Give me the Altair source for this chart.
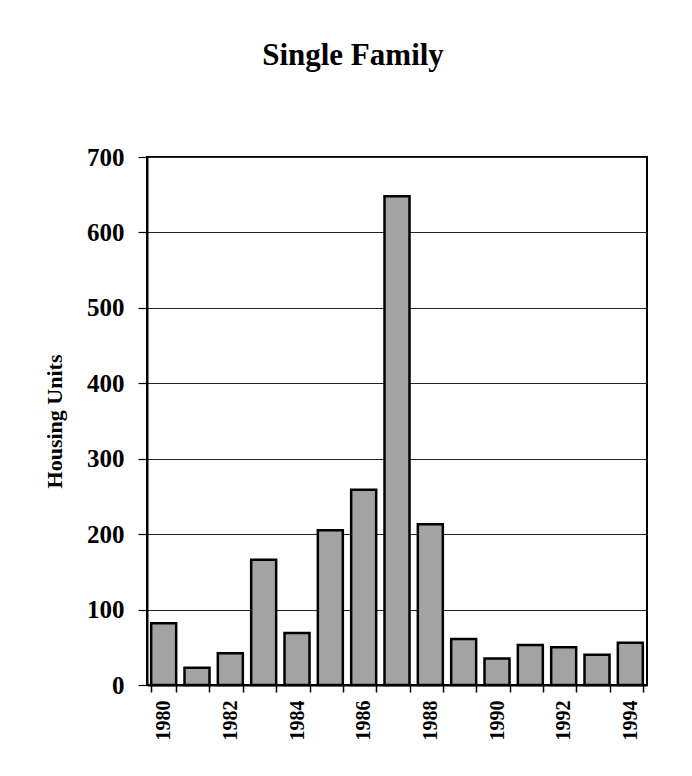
import altair as alt
import pandas as pd

years = [str(y) for y in range(1980, 1995)]
units = [82, 23, 42, 166, 69, 205, 259, 648, 213, 61, 35, 53, 50, 40, 56]

df = pd.DataFrame({"Year": years, "Units": units})

FONT = "Liberation Serif"

chart = (
    alt.Chart(df)
    .mark_bar(fill="#a3a3a3", stroke="black", strokeWidth=2.5)
    .encode(
        x=alt.X(
            "Year:N",
            sort=years,
            title=None,
            scale=alt.Scale(paddingInner=0.25, paddingOuter=0.125),
            axis=alt.Axis(
                labelAngle=-90,
                labelFont=FONT,
                labelFontSize=20,
                labelFontWeight="bold",
                labelColor="black",
                labelPadding=8,
                labelExpr="parseInt(datum.value) % 2 == 0 ? datum.label : ''",
                tickBand="extent",
                tickSize=7,
                tickColor="black",
                tickWidth=1.5,
                domainColor="black",
                domainWidth=2,
                grid=False,
            ),
        ),
        y=alt.Y(
            "Units:Q",
            title="Housing Units",
            scale=alt.Scale(domain=[0, 700], nice=False),
            axis=alt.Axis(
                values=[0, 100, 200, 300, 400, 500, 600, 700],
                labelFont=FONT,
                labelFontSize=25,
                labelFontWeight="bold",
                labelColor="black",
                labelPadding=14,
                tickSize=9,
                tickColor="black",
                tickWidth=1.2,
                domainColor="black",
                domainWidth=2,
                grid=True,
                gridColor="#222222",
                gridWidth=1,
                titleFont=FONT,
                titleFontSize=22,
                titleFontWeight="bold",
                titleColor="black",
                titlePadding=20,
            ),
        ),
    )
    .properties(
        width=500,
        height=528,
        title=alt.TitleParams(
            "Single Family",
            font=FONT,
            fontSize=31,
            fontWeight="bold",
            color="black",
            baseline="alphabetic",
            offset=49,
            dx=-44,
        ),
        autosize=alt.AutoSizeParams(type="none"),
        padding={"left": 139, "top": 149, "right": 37, "bottom": 83},
        background="white",
    )
    .configure_view(stroke="black", strokeWidth=2)
)

chart.save("out.html", embed_options={"renderer": "svg", "actions": False})
